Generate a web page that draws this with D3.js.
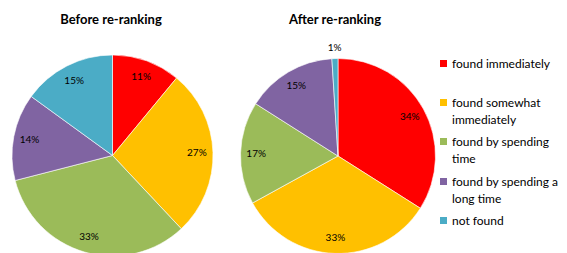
<!DOCTYPE html>
<html><head><meta charset="utf-8">
<script src="https://cdn.jsdelivr.net/npm/d3@7"></script>
<style>
html,body{margin:0;padding:0;background:#fff;}
svg{display:block;font-family:Lato,"Open Sans",sans-serif;}
</style></head>
<body>
<svg id="chart" width="567" height="253"></svg>
<script>
const categories = ["found immediately","found somewhat immediately","found by spending time","found by spending a long time","not found"];
const legendLines = [["found immediately"],["found somewhat","immediately"],["found by spending","time"],["found by spending a","long time"],["not found"]];
const colors = ["#FF0000","#FFC000","#9BBB59","#8064A2","#4BACC6"];
const beforeValues = [11,27,33,14,15];
const afterValues = [34,33,17,15,1];
const titles = ["Before re-ranking","After re-ranking"];

const svg = d3.select("#chart");
const pies = [
  {values: beforeValues, title: titles[0], cx: 112.5, cy: 155.5, r: 100.5, tx: 111},
  {values: afterValues, title: titles[1], cx: 338, cy: 156, r: 97.5, tx: 335}
];
const pie = d3.pie().sort(null).value(d => d);
pies.forEach(p => {
  const g = svg.append("g").attr("transform", `translate(${p.cx},${p.cy})`);
  const arc = d3.arc().innerRadius(0).outerRadius(p.r);
  const arcs = pie(p.values);
  g.selectAll("path").data(arcs).enter().append("path")
    .attr("d", arc).attr("fill", (d,i) => colors[i])
    .attr("stroke", "#fff").attr("stroke-width", 0.6);
  const labelArc = d3.arc().innerRadius(p.r*0.84).outerRadius(p.r*0.84);
  const outArc = d3.arc().innerRadius(p.r*1.11).outerRadius(p.r*1.11);
  g.selectAll("text").data(arcs).enter().append("text")
    .attr("transform", d => {
      const c = (d.value < 3 ? outArc : labelArc).centroid(d);
      return `translate(${c[0]},${c[1]})`;
    })
    .attr("text-anchor","middle").attr("dy","0.35em")
    .attr("font-size", 10).attr("fill","#000")
    .text(d => d.value + "%");
  svg.append("text").attr("x", p.tx).attr("y", 24)
    .attr("text-anchor","middle").attr("font-weight","bold")
    .attr("font-size", 13).attr("fill","#000").text(p.title);
});

const legendY = [64, 103, 142, 182, 221];
const lg = svg.append("g");
legendLines.forEach((lines, i) => {
  lg.append("rect").attr("x", 440).attr("y", legendY[i]-4).attr("width", 7).attr("height", 7)
    .attr("fill", colors[i]);
  const t = lg.append("text").attr("x", 452).attr("y", legendY[i]).attr("dy","0.35em")
    .attr("font-size", 12).attr("fill","#000");
  lines.forEach((l, j) => {
    t.append("tspan").attr("x", 452).attr("dy", j === 0 ? "0.35em" : 16.5).text(l);
  });
});
</script>
</body></html>
